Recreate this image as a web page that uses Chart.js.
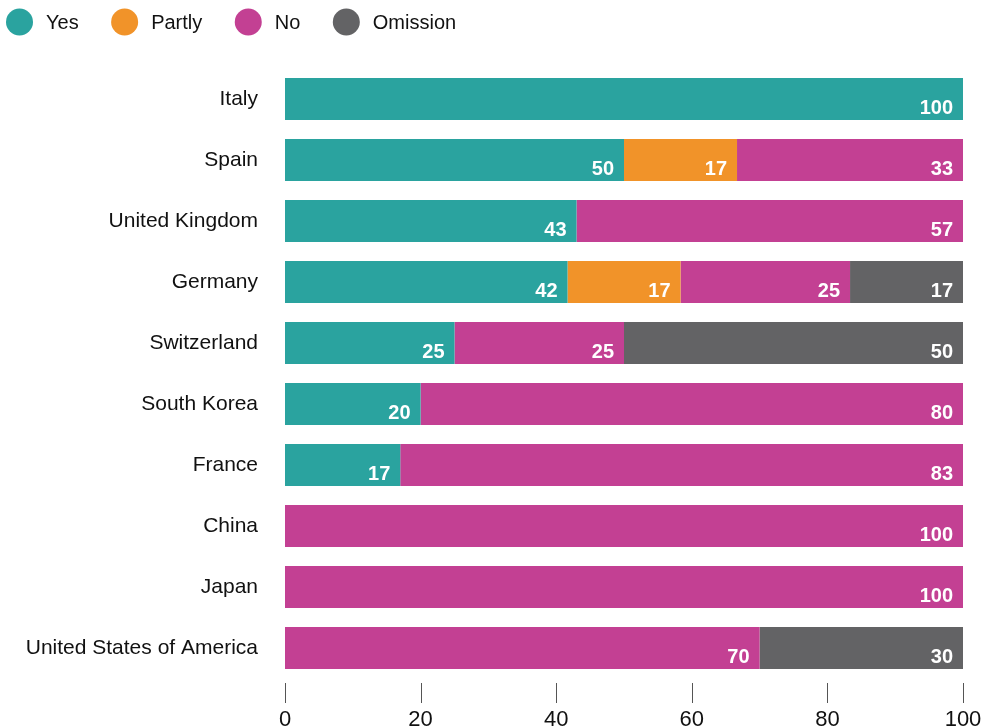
<!DOCTYPE html>
<html>
<head>
<meta charset="utf-8">
<script src="https://cdn.jsdelivr.net/npm/chart.js@4/dist/chart.umd.min.js"></script>
<style>
  html, body { margin: 0; padding: 0; background: #ffffff; }
  #wrap { width: 984px; height: 728px; position: relative; }
</style>
</head>
<body>
<div id="wrap"><canvas id="chart" width="984" height="728"></canvas></div>
<script>
// Countries, top to bottom
const countries = ['Italy', 'Spain', 'United Kingdom', 'Germany', 'Switzerland',
  'South Korea', 'France', 'China', 'Japan', 'United States of America'];

// Share of answers per country (percent)
const yesValues      = [100, 50, 43, 41.67, 25, 20, 17, null, null, null];
const partlyValues   = [null, 16.67, null, 16.67, null, null, null, null, null, null];
const noValues       = [null, 33.33, 57, 25, 25, 80, 83, 100, 100, 70];
const omissionValues = [null, null, null, 16.67, 50, null, null, null, null, 30];

const axisTicks = [0, 20, 40, 60, 80, 100];

const colors = {
  yes: '#2aa39f',
  partly: '#f19329',
  no: '#c34093',
  omission: '#636365'
};

const FONT = '"Liberation Sans", Arial, Helvetica, sans-serif';

// Legend with round markers, drawn above the plot
const circleLegend = {
  id: 'circleLegend',
  afterDraw(chart) {
    const ctx = chart.ctx;
    ctx.save();
    ctx.font = '20px ' + FONT;
    ctx.textBaseline = 'middle';
    ctx.textAlign = 'left';
    let x = 6;
    const cy = 22;
    chart.data.datasets.forEach(ds => {
      ctx.beginPath();
      ctx.fillStyle = ds.backgroundColor;
      ctx.arc(x + 13.5, cy, 13.5, 0, Math.PI * 2);
      ctx.fill();
      ctx.fillStyle = '#111111';
      const tx = x + 40;
      ctx.fillText(ds.label, tx, cy + 1);
      x = tx + ctx.measureText(ds.label).width + 32.5;
    });
    ctx.restore();
  }
};

// White value labels at the right end of each segment
const segmentLabels = {
  id: 'segmentLabels',
  afterDatasetsDraw(chart) {
    const ctx = chart.ctx;
    ctx.save();
    ctx.font = 'bold 20px ' + FONT;
    ctx.fillStyle = '#ffffff';
    ctx.textAlign = 'right';
    ctx.textBaseline = 'alphabetic';
    chart.data.datasets.forEach((ds, di) => {
      const meta = chart.getDatasetMeta(di);
      meta.data.forEach((bar, i) => {
        const v = ds.data[i];
        if (v === null || v === undefined || v <= 0) return;
        ctx.fillText(String(Math.round(v)), bar.x - 10, bar.y + 15);
      });
    });
    ctx.restore();
  }
};

// Short vertical tick marks under the plot, detached from it
const tickMarks = {
  id: 'tickMarks',
  afterDraw(chart) {
    const xs = chart.scales.x;
    const ctx = chart.ctx;
    const top = chart.chartArea.bottom + 4.5;
    ctx.save();
    ctx.strokeStyle = '#555555';
    ctx.lineWidth = 1;
    axisTicks.forEach(t => {
      const px = Math.round(xs.getPixelForValue(t)) + 0.5;
      ctx.beginPath();
      ctx.moveTo(px, top);
      ctx.lineTo(px, top + 20);
      ctx.stroke();
    });
    ctx.restore();
  }
};

const makeSet = (label, data, color) => ({
  label,
  data,
  backgroundColor: color,
  borderWidth: 0,
  barPercentage: 0.69,
  categoryPercentage: 1.0
});

function drawChart() {
  new Chart(document.getElementById('chart'), {
    type: 'bar',
    data: {
      labels: countries,
      datasets: [
        makeSet('Yes', yesValues, colors.yes),
        makeSet('Partly', partlyValues, colors.partly),
        makeSet('No', noValues, colors.no),
        makeSet('Omission', omissionValues, colors.omission)
      ]
    },
    options: {
      indexAxis: 'y',
      responsive: false,
      animation: false,
      layout: { padding: { top: 68.5, right: 21, left: 0, bottom: 0 } },
      plugins: {
        legend: { display: false },
        tooltip: { enabled: false }
      },
      scales: {
        x: {
          stacked: true,
          min: 0,
          max: 100,
          afterBuildTicks(scale) {
            scale.ticks = axisTicks.map(v => ({ value: v }));
          },
          afterFit(scale) {
            scale.height = 49.5;
            scale.paddingLeft = 0;
            scale.paddingRight = 0;
          },
          grid: { display: false },
          border: { display: false },
          ticks: {
            padding: 20,
            color: '#111111',
            font: { family: FONT, size: 22, lineHeight: 1.2 },
            maxRotation: 0
          }
        },
        y: {
          stacked: true,
          afterFit(scale) {
            scale.width = 285;
            scale.paddingTop = 0;
            scale.paddingBottom = 0;
          },
          grid: { display: false },
          border: { display: false },
          ticks: {
            padding: 19,
            color: '#111111',
            font: { family: FONT, size: 21 }
          }
        }
      }
    },
    plugins: [circleLegend, segmentLabels, tickMarks]
  });
}

const fontLoads = [
  '20px "Liberation Sans"',
  '21px "Liberation Sans"',
  'bold 20px "Liberation Sans"',
  '22px "Liberation Sans"'
].map(f => document.fonts.load(f).catch(() => null));
Promise.all(fontLoads).then(drawChart, drawChart);
</script>
</body>
</html>
